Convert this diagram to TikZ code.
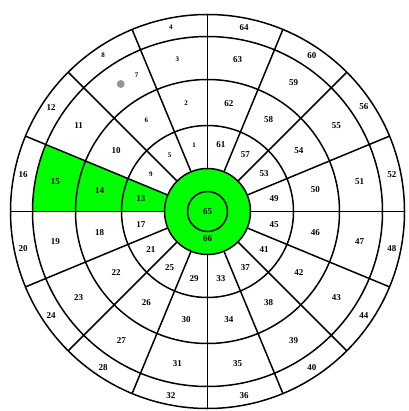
\documentclass[tikz,border=0pt]{standalone}
\usepackage{fontspec}
\setmainfont{Liberation Serif}
\definecolor{segGreen}{RGB}{0,255,0}
\definecolor{dotGray}{RGB}{150,150,150}
\begin{document}
\begin{tikzpicture}[x=1pt,y=1pt,
  ring/.style={line width=1.5pt},
  lab/.style={font=\fontsize{9}{10}\selectfont\bfseries, inner sep=0pt},
  slab/.style={font=\fontsize{7}{8}\selectfont\bfseries, inner sep=0pt}]
\useasboundingbox (0,0) rectangle (408,-411);
\coordinate (O) at (207.5,-211.5);
% green areas
\fill[segGreen] ([shift={(157.5:43)}]O) -- ([shift={(157.5:175)}]O)
  arc[start angle=157.5,end angle=180,radius=175]
  -- ([shift={(180:43)}]O) arc[start angle=180,end angle=157.5,radius=43] -- cycle;
\fill[segGreen] (O) circle[radius=43];
% circles
\foreach \r in {20,43,86,132,175,197} \draw[ring] (O) circle[radius=\r];
% radial lines
\foreach \a in {0,22.5,...,337.5} \draw[ring] ([shift={(\a:43)}]O) -- ([shift={(\a:197)}]O);
% gray dot
\node[circle, fill=dotGray, minimum size=8pt, inner sep=0pt] (dot) at (120.7,-84) {};
% labels
\foreach \k in {0,...,15}{
  \foreach \j/\rr in {1/68,2/110,3/155,4/188}{
    \pgfmathtruncatemacro\n{4*\k+\j}
    \pgfmathsetmacro\ang{101.25+22.5*\k}
    \edef\rad{\rr}
    \ifnum\n=7 \def\ang{117.4}\def\rad{154}\fi
    \ifnum\n<10 \def\st{slab}\else\def\st{lab}\fi
    \node[\st] (c\n) at ([shift={(\ang:\rad)}]O) {\n};
  }
}
\node[lab] (c65) at (O) {65};
\node[lab] (c66) at ([yshift=-27.5]O) {66};
\end{tikzpicture}
\end{document}
